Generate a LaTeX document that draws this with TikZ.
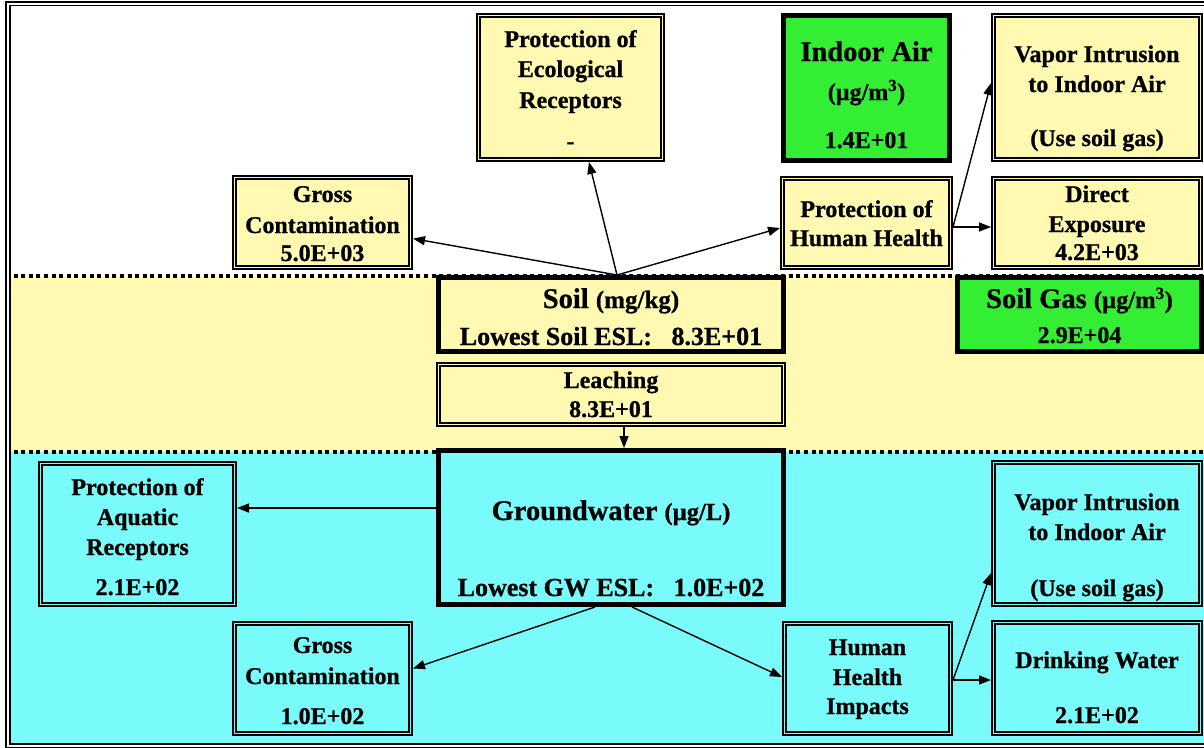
\documentclass[tikz,border=0pt]{standalone}
\usepackage{fontspec}
\setmainfont{Liberation Serif}[BoldFeatures={FakeBold=0.8}]
\usetikzlibrary{arrows.meta}
\definecolor{ylw}{HTML}{FFF9B2}
\definecolor{cyn}{HTML}{79FBFB}
\definecolor{grn}{HTML}{33EE33}
\begin{document}
\begin{tikzpicture}[x=1pt,y=-1pt,
 dbox/.style={draw=black, double distance=1.8pt, line width=1.6pt, inner sep=0pt, outer sep=2.5pt},
 ybox/.style={dbox, fill=ylw, double=ylw},
 cbox/.style={dbox, fill=cyn, double=cyn},
 tbox/.style={draw=black, line width=5pt, inner sep=0pt, outer sep=2.5pt},
 txt/.style={anchor=base, inner sep=0pt, font=\bfseries\fontsize{24}{28}\selectfont},
 hd/.style={txt, font=\bfseries\fontsize{28.5}{32}\selectfont},
 arr/.style={line width=1.4pt, -{Triangle[length=12pt,width=9pt]}},
 dotline/.style={line width=3.6pt, dash pattern=on 4pt off 3.6pt}]
\useasboundingbox (0,0) rectangle (1204,747);
% bands
\fill[white] (0,0) rectangle (1204,276);
\fill[ylw] (9,276) rectangle (1212,452);
\fill[cyn] (9,452) rectangle (1212,744);
\draw[dotline] (6,276) -- (1212,276);
\draw[dotline] (6,452) -- (1212,452);
% frame
\draw[line width=1.6pt, double distance=2pt] (8,3.8) rectangle (1214,745.6);
% boxes
\node[ybox, minimum width=184pt, minimum height=144pt] (eco) at (570.5,87.5) {};
\node[tbox, fill=grn, minimum width=166pt, minimum height=145pt] (indoor) at (866.5,88) {};
\node[ybox, minimum width=207pt, minimum height=144pt] (vapT) at (1097,87.5) {};
\node[ybox, minimum width=207pt, minimum height=89pt] (direct) at (1097,223) {};
\node[ybox, minimum width=168pt, minimum height=89pt] (hh) at (866.5,223) {};
\node[ybox, minimum width=176pt, minimum height=90pt] (grossT) at (322.5,222.5) {};
\node[tbox, fill=ylw, minimum width=345pt, minimum height=74pt] (soil) at (611,314.5) {};
\node[tbox, fill=grn, minimum width=244pt, minimum height=74pt] (soilgas) at (1079.5,314.5) {};
\node[ybox, minimum width=345pt, minimum height=60pt] (leach) at (611,394.5) {};
\node[tbox, fill=cyn, minimum width=345pt, minimum height=154pt] (gw) at (611,527.5) {};
\node[cbox, minimum width=194pt, minimum height=141pt] (aq) at (137.5,534) {};
\node[cbox, minimum width=176pt, minimum height=110pt] (grossB) at (322.5,678.5) {};
\node[cbox, minimum width=166pt, minimum height=110pt] (hhi) at (867.5,678.5) {};
\node[cbox, minimum width=207pt, minimum height=142pt] (vapB) at (1097,533.5) {};
\node[cbox, minimum width=207pt, minimum height=111pt] (dw) at (1097,678) {};
% arrows
\coordinate (fan) at ([xshift=6pt]soil.north);
\draw[arr] (fan) -- (grossT);
\draw[arr] (fan) -- (eco);
\draw[arr] (fan) -- ([yshift=-5pt]hh.west);
\draw[arr] ([yshift=-4pt]hh.east) -- ([yshift=4.5pt]vapT.west);
\draw[arr] ([yshift=-4pt]hh.east) -- ([yshift=-4pt]hh.east -| direct.west);
\draw[arr] ([xshift=13pt]leach.south) -- ([xshift=13pt]leach.south |- gw.north);
\draw[arr] ([yshift=19.5pt]gw.west) -- ([yshift=19.5pt]gw.west -| aq.east);
\draw[arr] ([xshift=-16pt]gw.south) -- ([yshift=10pt]grossB.east);
\draw[arr] ([xshift=21pt]gw.south) -- ([yshift=1.5pt]hhi.west);
\draw[arr] ([yshift=-1.5pt]hhi.east) -- ([yshift=-39.5pt]vapB.west);
\draw[arr] ([yshift=-1.5pt]hhi.east) -- ([yshift=-1.5pt]hhi.east -| dw.west);
% texts
\node[txt] (eco1) at (570.5,47) {Protection of};
\node[txt] (eco2) at (570.5,77) {Ecological};
\node[txt] (eco3) at (570.5,108) {Receptors};
\node[txt] (eco4) at (570.5,149) {-};
\node[hd] (in1) at (866.5,61) {Indoor Air};
\node[txt] (in2) at (866.5,100) {(µg/m\textsuperscript{3})};
\node[txt] (in3) at (866.5,148) {1.4E+01};
\node[txt] (vt1) at (1097,62) {Vapor Intrusion};
\node[txt] (vt2) at (1097,92) {to Indoor Air};
\node[txt] (vt3) at (1097,146) {(Use soil gas)};
\node[txt] (de1) at (1097,202) {Direct};
\node[txt] (de2) at (1097,232) {Exposure};
\node[txt] (de3) at (1097,260) {4.2E+03};
\node[txt] (hh1) at (866.5,217) {Protection of};
\node[txt] (hh2) at (866.5,246) {Human Health};
\node[txt] (gt1) at (322.5,202) {Gross};
\node[txt] (gt2) at (322.5,233) {Contamination};
\node[txt] (gt3) at (322.5,261) {5.0E+03};
\node[hd] (so1) at (611,308) {Soil {\fontsize{25}{28}\selectfont (mg/kg)}};
\node[txt, font=\bfseries\fontsize{26}{30}\selectfont] (so2) at (611,345) {Lowest Soil ESL:\hspace{0.5em} 8.3E+01};
\node[hd] (sg1) at (1079.5,308) {Soil Gas {\fontsize{24.5}{28}\selectfont (µg/m\textsuperscript{3})}};
\node[txt] (sg2) at (1079.5,343) {2.9E+04};
\node[txt] (le1) at (611,388) {Leaching};
\node[txt] (le2) at (611,417) {8.3E+01};
\node[hd] (gw1) at (611,520) {Groundwater {\fontsize{24.5}{28}\selectfont (µg/L)}};
\node[txt, font=\bfseries\fontsize{26}{30}\selectfont] (gw2) at (611,596) {Lowest GW ESL:\hspace{0.5em} 1.0E+02};
\node[txt] (aq1) at (137.5,495) {Protection of};
\node[txt] (aq2) at (137.5,525) {Aquatic};
\node[txt] (aq3) at (137.5,555) {Receptors};
\node[txt] (aq4) at (137.5,595) {2.1E+02};
\node[txt] (gb1) at (322.5,653) {Gross};
\node[txt] (gb2) at (322.5,684) {Contamination};
\node[txt] (gb3) at (322.5,724) {1.0E+02};
\node[txt] (hi1) at (867.5,655) {Human};
\node[txt] (hi2) at (867.5,685) {Health};
\node[txt] (hi3) at (867.5,714) {Impacts};
\node[txt] (vb1) at (1097,510) {Vapor Intrusion};
\node[txt] (vb2) at (1097,540) {to Indoor Air};
\node[txt] (vb3) at (1097,596) {(Use soil gas)};
\node[txt] (dw1) at (1097,668) {Drinking Water};
\node[txt] (dw2) at (1097,723) {2.1E+02};
\end{tikzpicture}
\end{document}
